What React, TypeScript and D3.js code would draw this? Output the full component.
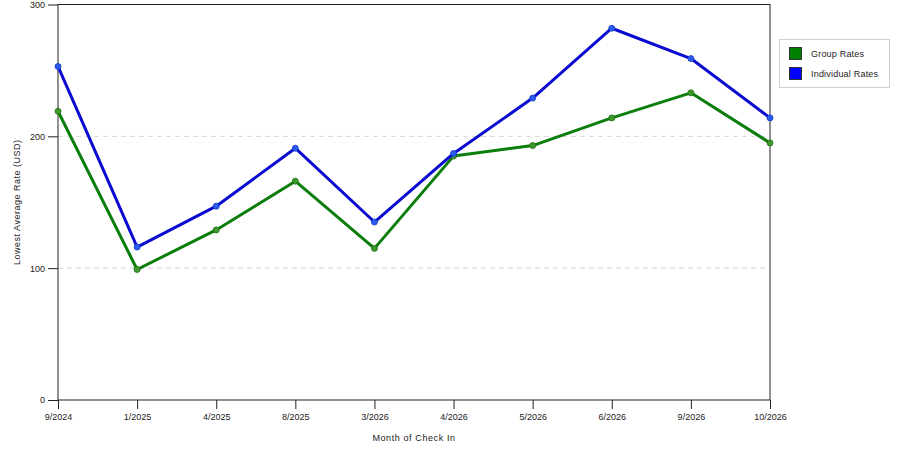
import { useEffect, useRef } from "react";
import * as d3 from "d3";

const months = ["9/2024", "1/2025", "4/2025", "8/2025", "3/2026", "4/2026", "5/2026", "6/2026", "9/2026", "10/2026"];
const groupRates = [219, 99, 129, 166, 115, 185, 193, 214, 233, 195];
const individualRates = [253, 116, 147, 191, 135, 187, 229, 282, 259, 214];
const yTicks = [0, 100, 200, 300];

const seriesList = [
  { name: "Group Rates", values: groupRates, line: "#0b7d0b", dot: "#3f9a2c", dotStroke: "#1d6b12", swatch: "#008000" },
  { name: "Individual Rates", values: individualRates, line: "#0a0ad0", dot: "#2a5cf0", dotStroke: "#1037c8", swatch: "#0000ff" },
];

export const RateChart = (props: IRateChartProps) => {
  const chartRef = useRef<HTMLDivElement>(null);
  const { width, height, top, right, bottom, left } = props;

  useEffect(() => {
    d3.select(chartRef.current).select("svg").remove();

    const svg = d3
      .select(chartRef.current)
      .append("svg")
      .attr("width", width)
      .attr("height", height)
      .style("position", "absolute")
      .style("left", "0px")
      .style("top", "0px")
      .style("font-family", "'Liberation Sans', Arial, sans-serif");

    const x = d3.scalePoint<string>().domain(months).range([left, width - right]);
    const y = d3.scaleLinear().domain([0, 300]).range([height - bottom, top]);

    // dashed grid lines
    svg
      .append("g")
      .selectAll("line")
      .data(yTicks.filter((t) => t > 0 && t < 300))
      .enter()
      .append("line")
      .attr("x1", left)
      .attr("x2", width - right)
      .attr("y1", (d) => y(d))
      .attr("y2", (d) => y(d))
      .attr("stroke", "#d4d4d4")
      .attr("stroke-dasharray", "5,4");

    // frame
    svg
      .append("rect")
      .attr("x", left)
      .attr("y", top)
      .attr("width", width - right - left)
      .attr("height", height - bottom - top)
      .attr("fill", "none")
      .attr("stroke", "#222")
      .attr("stroke-width", 1);

    const yAxis = svg
      .append("g")
      .attr("transform", `translate(${left},0)`)
      .call(d3.axisLeft(y).tickValues(yTicks).tickSize(10).tickPadding(3));
    yAxis.select(".domain").remove();

    const xAxis = svg
      .append("g")
      .attr("transform", `translate(0,${height - bottom})`)
      .call(d3.axisBottom(x).tickSize(9).tickPadding(5));
    xAxis.select(".domain").remove();

    svg.selectAll(".tick line").attr("stroke", "#222");
    svg
      .selectAll(".tick text")
      .attr("fill", "#222")
      .style("font-size", "9px")
      .style("font-family", "'Liberation Sans', Arial, sans-serif");

    svg
      .append("text")
      .attr("x", (left + width - right) / 2)
      .attr("y", height - bottom + 41)
      .attr("text-anchor", "middle")
      .attr("font-size", 9)
      .attr("letter-spacing", 0.6)
      .attr("fill", "#222")
      .text("Month of Check In");

    svg
      .append("text")
      .attr("transform", `translate(20,${(top + height - bottom) / 2}) rotate(-90)`)
      .attr("text-anchor", "middle")
      .attr("font-size", 9)
      .attr("letter-spacing", 0.5)
      .attr("fill", "#222")
      .text("Lowest Average Rate (USD)");

    const line = d3
      .line<number>()
      .x((_, i) => x(months[i]) as number)
      .y((d) => y(d));

    seriesList.forEach((s) => {
      svg
        .append("path")
        .datum(s.values)
        .attr("d", line)
        .attr("fill", "none")
        .attr("stroke", s.line)
        .attr("stroke-width", 3)
        .attr("stroke-linejoin", "round");

      svg
        .append("g")
        .selectAll("circle")
        .data(s.values)
        .enter()
        .append("circle")
        .attr("cx", (_, i) => x(months[i]) as number)
        .attr("cy", (d) => y(d))
        .attr("r", 3)
        .attr("fill", s.dot)
        .attr("stroke", s.dotStroke)
        .attr("stroke-width", 0.8);
    });

    // legend
    const legend = svg.append("g").attr("transform", "translate(779,39)");
    legend
      .append("rect")
      .attr("x", 0.5)
      .attr("y", 0.5)
      .attr("width", 110)
      .attr("height", 48)
      .attr("fill", "#fff")
      .attr("stroke", "#cfcfcf");

    const item = legend
      .selectAll(".item")
      .data(seriesList)
      .enter()
      .append("g")
      .attr("class", "item")
      .attr("transform", (_, i) => `translate(10,${8 + i * 20})`);

    item
      .append("rect")
      .attr("x", 0.5)
      .attr("y", 0.5)
      .attr("width", 12)
      .attr("height", 12)
      .attr("fill", (d) => d.swatch)
      .attr("stroke", "#333");

    item
      .append("text")
      .attr("x", 22)
      .attr("y", 10)
      .attr("font-size", 9)
      .attr("letter-spacing", 0.2)
      .attr("fill", "#222")
      .text((d) => d.name);
  }, [width, height, top, right, bottom, left]);

  return <div ref={chartRef} className="rateChart" />;
};

interface IRateChartProps {
  width: number;
  height: number;
  top: number;
  right: number;
  bottom: number;
  left: number;
}

export default function App() {
  return <RateChart width={900} height={450} top={4.5} right={130} bottom={50} left={58} />;
}
